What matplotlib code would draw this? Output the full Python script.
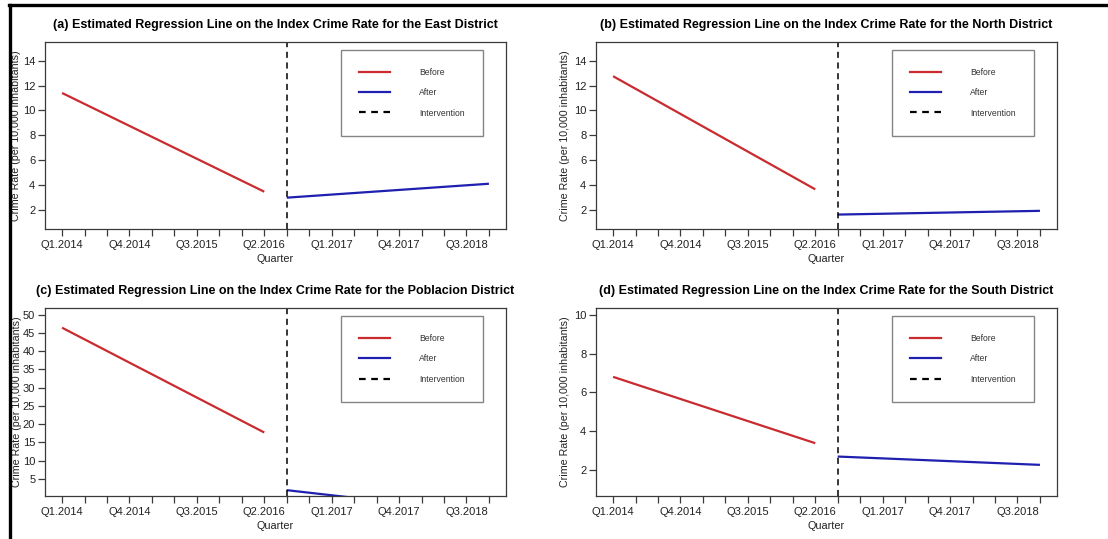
import numpy as np
import matplotlib
matplotlib.use('Agg')
import matplotlib.pyplot as plt
from matplotlib.lines import Line2D

plt.rcParams['font.family'] = ['Liberation Sans', 'DejaVu Sans']

quarters = ['Q1.2014', 'Q2.2014', 'Q3.2014', 'Q4.2014', 'Q1.2015', 'Q2.2015',
            'Q3.2015', 'Q4.2015', 'Q1.2016', 'Q2.2016', 'Q3.2016', 'Q4.2016',
            'Q1.2017', 'Q2.2017', 'Q3.2017', 'Q4.2017', 'Q1.2018', 'Q2.2018',
            'Q3.2018', 'Q4.2018']
intervention = 'Q3.2016'

# fitted lines: endpoints of the before / after segments
before_q = ['Q1.2014', 'Q2.2016']
after_q = ['Q3.2016', 'Q4.2018']

districts = ['East', 'North', 'Poblacion', 'South']
panel_tags = ['(a)', '(b)', '(c)', '(d)']
before_vals = {'East': [11.4, 3.46], 'North': [12.75, 3.65],
               'Poblacion': [46.4, 17.7], 'South': [6.8, 3.37]}
after_vals = {'East': [2.98, 4.1], 'North': [1.62, 1.92],
              'Poblacion': [1.9, -4.4], 'South': [2.68, 2.25]}
y_ticks = {'East': [2, 4, 6, 8, 10, 12, 14], 'North': [2, 4, 6, 8, 10, 12, 14],
           'Poblacion': [5, 10, 15, 20, 25, 30, 35, 40, 45, 50],
           'South': [2, 4, 6, 8, 10]}
y_lims = {'East': (0.46, 15.5), 'North': (0.46, 15.5),
          'Poblacion': (0.3, 51.8), 'South': (0.64, 10.36)}

W, H = 1108, 539
fig = plt.figure(figsize=(W / 100, H / 100), dpi=100)

# axes boxes in pixels: left, top, right, bottom
boxes = [(45, 42, 506, 229), (596, 42, 1057, 229),
         (45, 308, 506, 496), (596, 308, 1057, 496)]

red = '#c92b2f'
blue = '#1f1fb0'
spine_col = '#3a3a3a'
xpos = {q: i + 1 for i, q in enumerate(quarters)}

for d, tag, (l, t, r, b) in zip(districts, panel_tags, boxes):
    ax = fig.add_axes([l / W, 1 - b / H, (r - l) / W, (b - t) / H])
    ax.plot([xpos[q] for q in before_q], before_vals[d], color=red, lw=1.6,
            solid_capstyle='butt')
    ax.plot([xpos[q] for q in after_q], after_vals[d], color=blue, lw=1.6,
            solid_capstyle='butt')
    ax.axvline(xpos[intervention], color='black', lw=1.1, ls=(0, (4, 3)))

    ax.set_xlim(0.24, 20.76)
    ax.set_ylim(*y_lims[d])
    ax.set_xticks(range(1, len(quarters) + 1))
    ax.set_xticklabels([q if i % 3 == 0 else '' for i, q in enumerate(quarters)])
    ax.set_yticks(y_ticks[d])
    ax.tick_params(direction='out', length=5, width=0.9, color=spine_col,
                   labelsize=8, labelcolor='#222222', pad=2)
    ax.tick_params(axis='x', pad=3)
    for s in ax.spines.values():
        s.set_color(spine_col)
        s.set_linewidth(0.9)

    ax.set_title(tag + ' Estimated Regression Line on the Index Crime Rate for the '
                 + d + ' District', fontsize=9, fontweight='bold', pad=10)
    ax.set_xlabel('Quarter', fontsize=7.8, color='#222222', labelpad=3)
    ax.set_ylabel('Crime Rate (per 10,000 inhabitants)', fontsize=7.7,
                  color='#222222', labelpad=3 if d in ('North', 'South') else 1)

    handles = [Line2D([], [], color=red, lw=1.6),
               Line2D([], [], color=blue, lw=1.6),
               Line2D([], [], color='black', lw=1.6, ls=(0, (3, 2.5)))]
    leg = ax.legend(handles, ['Before', 'After', 'Intervention'],
                    loc='upper right', bbox_to_anchor=(0.95, 0.957),
                    borderaxespad=0, fontsize=6.2, frameon=True, fancybox=False,
                    handlelength=3.6, handletextpad=3.4, borderpad=2.1,
                    labelspacing=1.3)
    leg.get_frame().set_edgecolor('#666666')
    leg.get_frame().set_linewidth(1.0)
    for txt in leg.get_texts():
        txt.set_color('#333333')

# page border along top and left edges
fig.add_artist(Line2D([9 / W, 1], [1 - 5 / H, 1 - 5 / H], color='black', lw=2.4,
                      transform=fig.transFigure))
fig.add_artist(Line2D([10 / W, 10 / W], [0, 1 - 5 / H], color='black', lw=2.4,
                      transform=fig.transFigure))

fig.savefig('out.png', dpi=100)
